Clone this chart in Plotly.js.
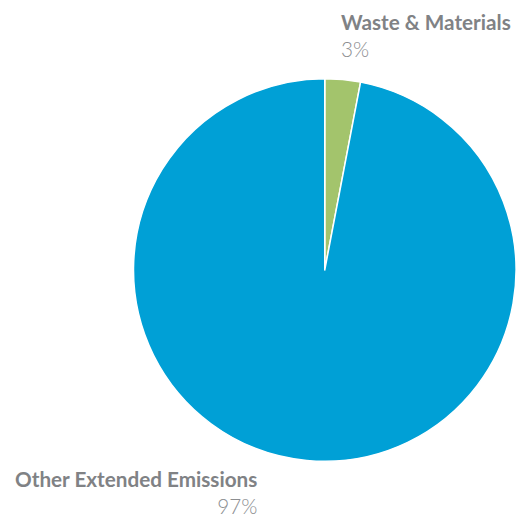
<!DOCTYPE html>
<html>
<head>
<meta charset="utf-8">
<script src="https://cdn.plot.ly/plotly-3.0.1.min.js"></script>
<style>html,body{margin:0;padding:0;background:#fff;}#chart{width:516px;height:519px;}</style>
</head>
<body>
<div id="chart"></div>
<script>
const categories = ["Waste & Materials", "Other Extended Emissions"];
const values = [3, 97];
const percentLabels = ["3%", "97%"];
const colors = ["#a3c46c", "#00a0d6"];

const W = 516, H = 519;
const px = x => x / W;
const py = y => 1 - y / H;

const data = [{
  type: "pie",
  labels: categories,
  values: values,
  sort: false,
  direction: "clockwise",
  rotation: 0,
  textinfo: "none",
  hoverinfo: "label+percent",
  marker: {colors: colors, line: {color: "#ffffff", width: 1.5}},
  domain: {x: [px(133.5), 1], y: [py(462), py(78)]},
  showlegend: false
}];

const labelFont = {family: "Lato, 'Open Sans', sans-serif", size: 20.7, color: "#808285"};
const pct = t => '<span style="font-weight:300;color:#8c8e91">' + t + '</span>';
const layout = {
  width: W, height: H,
  margin: {l: 0, r: 0, t: 0, b: 0},
  paper_bgcolor: "#ffffff",
  showlegend: false,
  annotations: [
    {text: "<b>" + categories[0].replace("&", "&amp;") + "</b><br>" + pct(percentLabels[0]), x: px(340), y: py(36), xref: "paper", yref: "paper", xanchor: "left", yanchor: "middle", align: "left", showarrow: false, font: labelFont, borderpad: 0},
    {text: "<b>" + categories[1] + "</b><br>" + pct(percentLabels[1]), x: px(258), y: py(519), xref: "paper", yref: "paper", xanchor: "right", yanchor: "bottom", align: "right", showarrow: false, font: labelFont, borderpad: 0}
  ]
};

Plotly.newPlot("chart", data, layout, {displayModeBar: false, staticPlot: true});
</script>
</body>
</html>
